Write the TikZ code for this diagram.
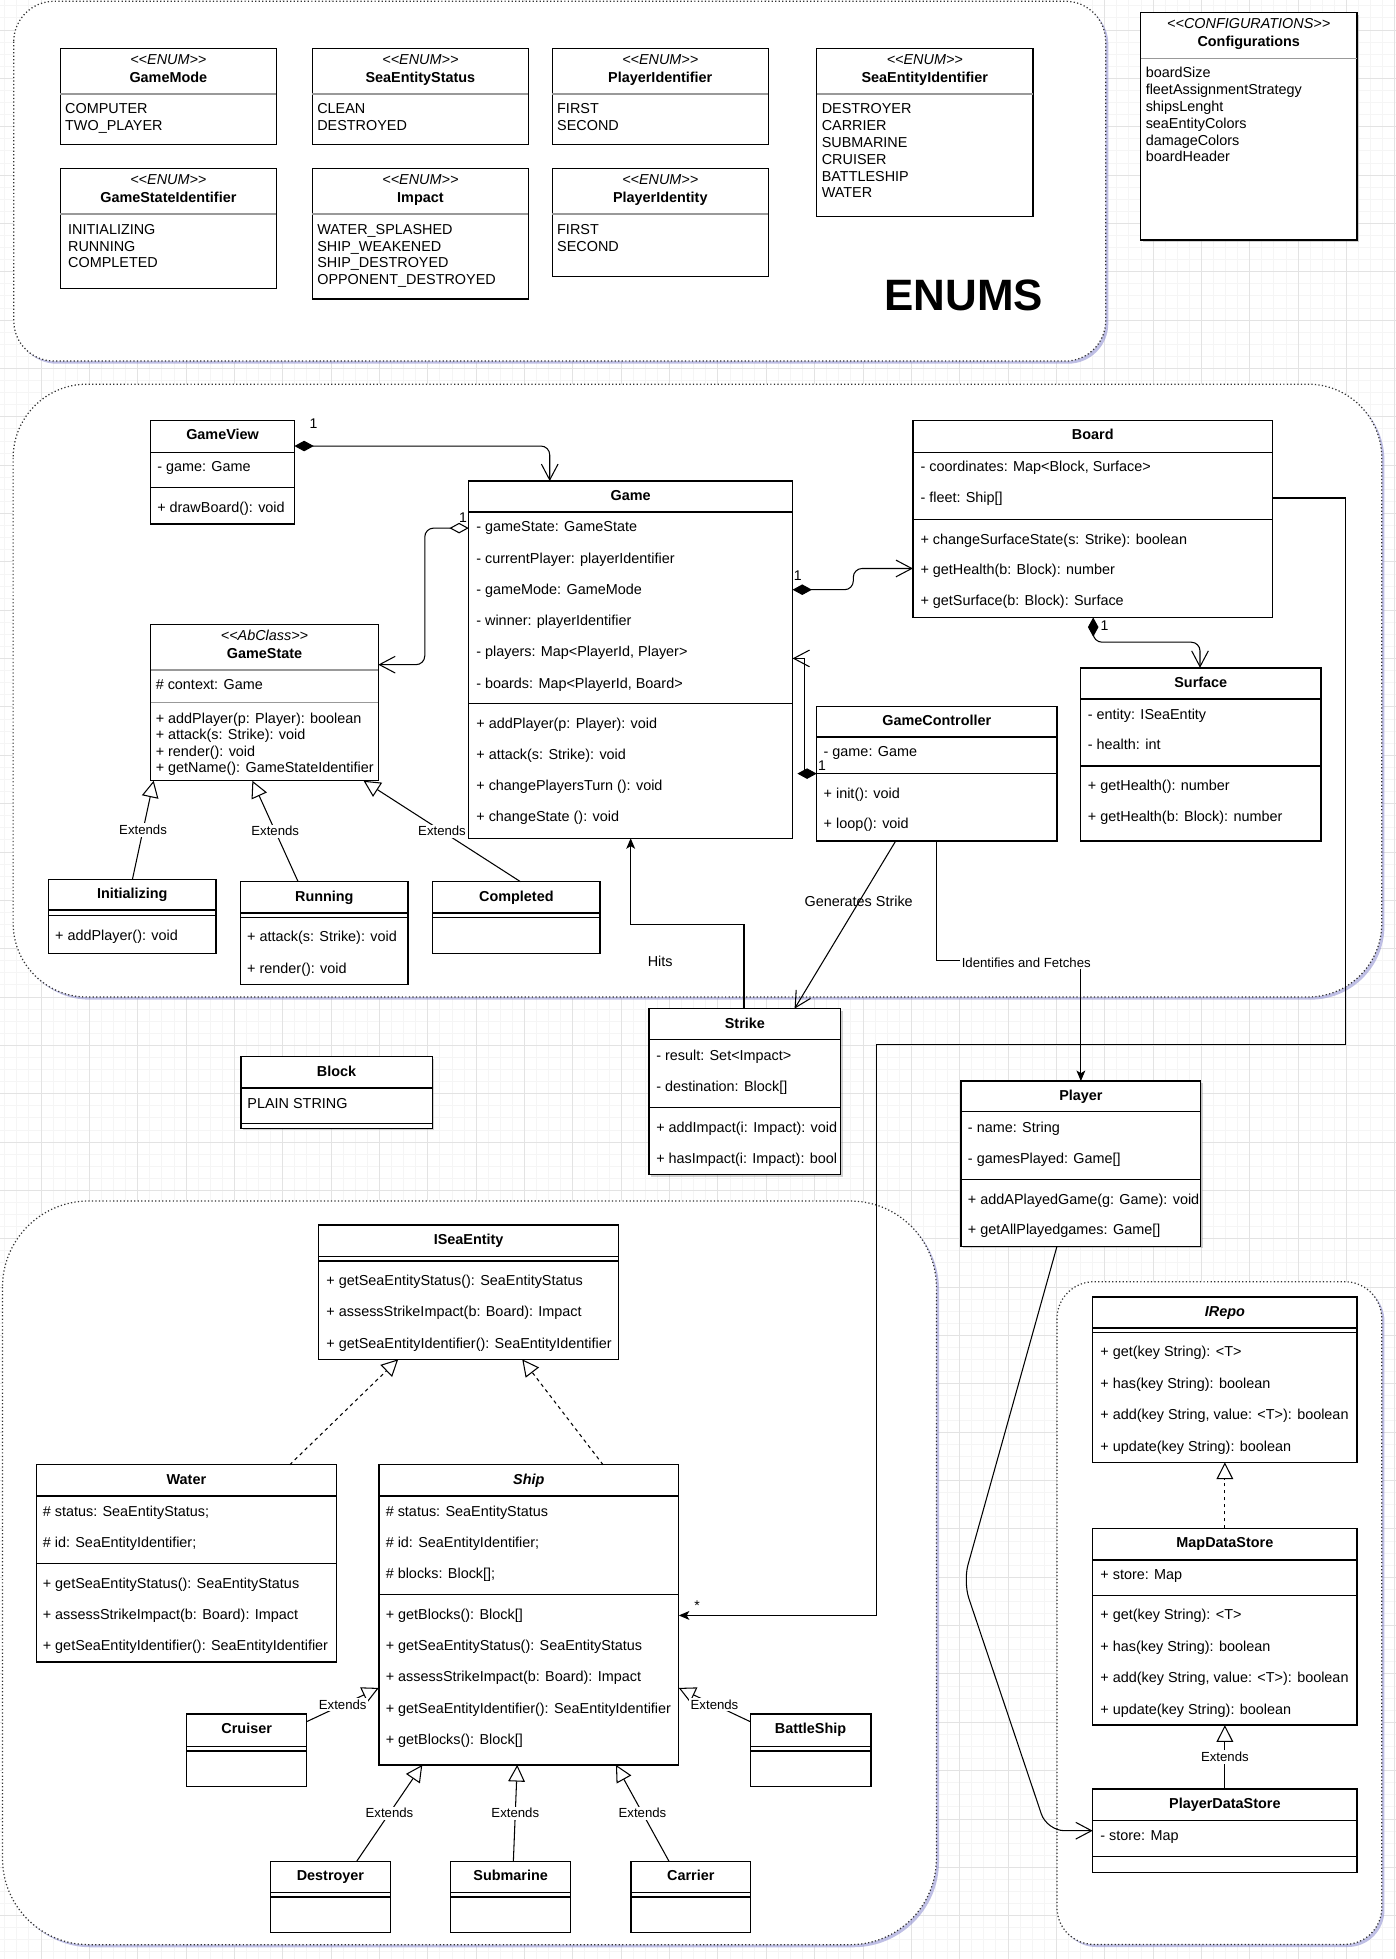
\documentclass[tikz,border=0pt]{standalone}
\usepackage{fontspec}
\setmainfont{Liberation Sans}
\usetikzlibrary{arrows.meta,calc,fit,shadows}

\tikzset{
	gridminor/.style={draw=black!4, line width=0.5pt},
	gridmajor/.style={draw=black!11, line width=0.5pt},
	grp/.style={draw=black!80, line width=0.7pt, dash pattern=on 0.7pt off 1.3pt, fill=white,
		drop shadow={shadow xshift=1.5pt, shadow yshift=-1.5pt, fill=black!40!blue!50!white, opacity=0.5}},
	classbox/.style={draw, line width=0.8pt, fill=white, inner sep=0pt, outer sep=0pt},
	boxshadow/.style={drop shadow={shadow xshift=1.2pt, shadow yshift=-1.2pt, fill=black!50, opacity=0.35}},
	classline/.style={line width=0.8pt},
	sepgray/.style={draw=black!40},
	classname/.style={font=\bfseries\fontsize{8.2}{10}\selectfont, inner sep=0pt, text height=6.2pt, text depth=1.8pt},
	stereo/.style={font=\itshape\fontsize{8.2}{10}\selectfont, inner sep=0pt, text height=6.2pt, text depth=1.8pt},
	classrow/.style={font=\fontsize{8.2}{10}\selectfont, anchor=west, inner sep=0pt, text height=6.2pt, text depth=1.8pt},
	bigtitle/.style={font=\bfseries\fontsize{25}{30}\selectfont, inner sep=0pt},
	link/.style={line width=0.6pt, rounded corners=5pt},
	comp/.style={link, {Diamond[length=11pt,width=6pt]}-{Straight Barb[length=9pt,width=9.5pt]}},
	aggr/.style={link, {Diamond[length=11pt,width=6pt,fill=white]}-{Straight Barb[length=9pt,width=9.5pt]}},
	gen/.style={link, -{Straight Barb[length=9pt,width=9.5pt]}},
	hit/.style={link, sharp corners, -{Stealth[length=6pt,width=5pt,inset=1.5pt]}},
	ext/.style={line width=0.6pt, -{Triangle[length=9.5pt,width=9.5pt,fill=white]}},
	impl/.style={ext, dash pattern=on 2pt off 2pt},
	extlbl/.style={font=\fontsize{7.5}{9}\selectfont, fill=white, inner sep=1pt},
	lbl/.style={font=\fontsize{8.2}{10}\selectfont, inner sep=0pt},
	mult/.style={font=\fontsize{8}{10}\selectfont, inner sep=0pt}
}

\def\umlclass[#1](#2)(#3,#4)(#5,#6)#7{%
	\node[classbox,#1,fit={(#3,#4) (#5,#6)}] (#2) {};
	\node[classname] (#2-name) at ($(#2.north)+(0,12.5)$) {#7};}
\def\umlstereo[#1](#2)(#3,#4)(#5,#6)#7#8{%
	\node[classbox,#1,fit={(#3,#4) (#5,#6)}] (#2) {};
	\node[stereo] (#2-type) at ($(#2.north)+(0,10)$) {<\kern0pt<#7>\kern0pt>};
	\node[classname] (#2-name) at ($(#2.north)+(0,24)$) {#8};}
\def\umlsep[#1](#2)(#3){\draw[classline,#1] (#2.west |- 0,#3) -- (#2.east |- 0,#3);}
\def\umlrows(#1)(#2,#3)(#4)#5{\foreach \txt [count=\n] in {#5}{\node[classrow] (#1\n) at (#2,{#3+#4*(\n-1)}) {\txt};}}

\begin{document}
\begin{tikzpicture}[x=0.025cm, y=-0.025cm]
		%%%%% START %%%%%
		
		\useasboundingbox (0,0) rectangle (1117,1568);
		\fill[white] (0,0) rectangle (1117,1568);
		\foreach \i in {0,...,115} \draw[gridminor] (3.78+9.675*\i,0) -- (3.78+9.675*\i,1568);
		\foreach \j in {0,...,161} \draw[gridminor] (0,4.65+9.675*\j) -- (1117,4.65+9.675*\j);
		\foreach \i in {0,...,28} \draw[gridmajor] (32.8+38.7*\i,0) -- (32.8+38.7*\i,1568);
		\foreach \j in {0,...,40} \draw[gridmajor] (0,24+38.7*\j) -- (1117,24+38.7*\j);
		
		\draw[grp, rounded corners=23pt] (11,1) rectangle (885,289);
		\draw[grp, rounded corners=42pt] (10.5,307.5) rectangle (1106,798);
		\draw[grp, rounded corners=49pt] (2,961.3) rectangle (749.5,1556.5);
		\draw[grp, rounded corners=21pt] (846,1025.9) rectangle (1106,1556.3);
		
		% enums
		\umlstereo[](GameMode)(48.2,38.7)(221.3,115.8){ENUM}{GameMode}
		\umlsep[sepgray](GameMode)(75.3)
		\umlrows(GameMode-v)(51.9,88)(13.6){COMPUTER, TWO\_PLAYER}
		\umlstereo[](SeaEntityStatus)(250,38.7)(423,115.8){ENUM}{SeaEntityStatus}
		\umlsep[sepgray](SeaEntityStatus)(75.3)
		\umlrows(SeaEntityStatus-v)(253.7,88)(13.6){CLEAN, DESTROYED}
		\umlstereo[](PlayerIdentifier)(442,38.7)(615,115.8){ENUM}{PlayerIdentifier}
		\umlsep[sepgray](PlayerIdentifier)(75.3)
		\umlrows(PlayerIdentifier-v)(445.7,88)(13.6){FIRST, SECOND}
		\umlstereo[](SeaEntityIdentifier)(653.7,38.7)(826.8,173.2){ENUM}{SeaEntityIdentifier}
		\umlsep[sepgray](SeaEntityIdentifier)(75.3)
		\umlrows(SeaEntityIdentifier-v)(657.5,88)(13.46){DESTROYER, CARRIER, SUBMARINE, CRUISER, BATTLESHIP, WATER}
		\umlstereo[](GameStateIdentifier)(48.2,134.8)(221.3,230.9){ENUM}{GameStateIdentifier}
		\umlsep[sepgray](GameStateIdentifier)(171.4)
		\umlrows(GameStateIdentifier-v)(54.3,184.2)(13.6){INITIALIZING, RUNNING, COMPLETED}
		\umlstereo[](Impact)(250,134.8)(423,239.4){ENUM}{Impact}
		\umlsep[sepgray](Impact)(171.4)
		\umlrows(Impact-v)(253.7,184.2)(13.6){WATER\_SPLASHED, SHIP\_WEAKENED, SHIP\_DESTROYED, OPPONENT\_DESTROYED}
		\umlstereo[](PlayerIdentity)(442,134.8)(615,221.3){ENUM}{PlayerIdentity}
		\umlsep[sepgray](PlayerIdentity)(171.4)
		\umlrows(PlayerIdentity-v)(445.7,184.2)(13.6){FIRST, SECOND}
		\node[bigtitle] (enums) at (771.4,236.2) {ENUMS};
		
		\umlstereo[boxshadow](Configurations)(913,10.1)(1086,192.2){CONFIGURATIONS}{Configurations}
		\umlsep[sepgray](Configurations)(46.7)
		\umlrows(Configurations-v)(916.8,59.2)(13.45){boardSize, fleetAssignmentStrategy, shipsLenght, seaEntityColors, damageColors, boardHeader}
		
		% game
		\umlclass[](GameView)(120.6,336.5)(235.7,419.5){GameView}
		\umlsep[](GameView)(362)
		\umlsep[](GameView)(390.3)
		\umlrows(GameView-a)(125.6,374.5)(0){- game: Game}
		\umlrows(GameView-m)(125.6,407.1)(0){+ drawBoard(): void}
		
		\umlclass[](Game)(375.2,385)(634.4,670.9){Game}
		\umlsep[](Game)(409.7)
		\umlsep[](Game)(563.2)
		\umlrows(Game-a)(381,422.7)(25){{- gameState: GameState}, {- currentPlayer: playerIdentifier}, {- gameMode: GameMode}, {- winner: playerIdentifier}, {- players: Map<PlayerId, Player>}, {- boards: Map<PlayerId, Board>}}
		\umlrows(Game-m)(381,580.3)(24.8){{+ addPlayer(p: Player): void}, {+ attack(s: Strike): void}, {+ changePlayersTurn (): void}, {+ changeState (): void}}
		
		\umlstereo[](GameState)(120.6,499.9)(302.8,624.9){AbClass}{GameState}
		\umlsep[sepgray](GameState)(536.3)
		\umlsep[sepgray](GameState)(562.3)
		\umlrows(GameState-a)(124.4,548.9)(0){\# context: Game}
		\umlrows(GameState-m)(124.4,575.6)(13.3){{+ addPlayer(p: Player): boolean}, {+ attack(s: Strike): void}, {+ render(): void}, {+ getName(): GameStateIdentifier}}
		
		\umlclass[](Initializing)(38.9,703.8)(172.9,763.3){Initializing}
		\umlsep[](Initializing)(728.4)
		\umlsep[](Initializing)(732.6)
		\umlrows(Initializing-m)(43.9,749.3)(0){+ addPlayer(): void}
		\umlclass[](Running)(192.6,705.7)(326.6,788){Running}
		\umlsep[](Running)(730.7)
		\umlsep[](Running)(734.2)
		\umlrows(Running-m)(197.6,750.6)(25.2){{+ attack(s: Strike): void}, {+ render(): void}}
		\umlclass[](Completed)(346.3,705.7)(480.3,763.3){Completed}
		\umlsep[](Completed)(730.7)
		\umlsep[](Completed)(734.2)
		
		\umlclass[](Board)(730.7,336.5)(1018.6,494.2){Board}
		\umlsep[](Board)(362)
		\umlsep[](Board)(415.7)
		\umlrows(Board-a)(736.5,374.5)(24.7){{- coordinates: Map<Block, Surface>}, {- fleet: Ship[]}}
		\umlrows(Board-m)(736.5,432.4)(24.7){{+ changeSurfaceState(s: Strike): boolean}, {+ getHealth(b: Block): number}, {+ getSurface(b: Block): Surface}}
		
		\umlclass[](Surface)(865,534.5)(1057.2,673){Surface}
		\umlsep[](Surface)(559.4)
		\umlsep[](Surface)(613.2)
		\umlrows(Surface-a)(870.5,572.4)(24.6){{- entity: ISeaEntity}, {- health: int}}
		\umlrows(Surface-m)(870.5,629.7)(24.7){{+ getHealth(): number}, {+ getHealth(b: Block): number}}
		
		\umlclass[](GameController)(653.7,565.4)(845.9,673){GameController}
		\umlsep[](GameController)(590)
		\umlsep[](GameController)(619.2)
		\umlrows(GameController-a)(659,602.8)(0){- game: Game}
		\umlrows(GameController-m)(659,635.7)(24.7){{+ init(): void}, {+ loop(): void}}
		
		% loose classes
		\umlclass[boxshadow](Strike)(519.6,807.3)(672.8,940){Strike}
		\umlsep[](Strike)(832.1)
		\umlsep[](Strike)(886.3)
		\umlrows(Strike-a)(525,846)(24.6){{- result: Set<Impact>}, {- destination: Block[]}}
		\umlrows(Strike-m)(525,903.4)(24.8){{+ addImpact(i: Impact): void}, {+ hasImpact(i: Impact): bool}}
		
		\umlclass[boxshadow](Block)(192.8,845.7)(346,903.1){Block}
		\umlsep[](Block)(870.8)
		\umlsep[](Block)(899.4)
		\umlrows(Block-a)(197.8,884.2)(0){PLAIN STRING}
		
		\umlclass[boxshadow](Player)(769.3,865.3)(961,997.6){Player}
		\umlsep[](Player)(889.5)
		\umlsep[](Player)(944)
		\umlrows(Player-a)(774.5,903.4)(24.8){{- name: String}, {- gamesPlayed: Game[]}}
		\umlrows(Player-m)(774.5,960.8)(24.5){{+ addAPlayedGame(g: Game): void}, {+ getAllPlayedgames: Game[]}}
		
		% sea entities
		\umlclass[](ISeaEntity)(255.1,980.4)(495.1,1088){ISeaEntity}
		\umlsep[](ISeaEntity)(1005.6)
		\umlsep[](ISeaEntity)(1009.4)
		\umlrows(ISeaEntity-m)(261,1025.6)(25.3){{+ getSeaEntityStatus(): SeaEntityStatus}, {+ assessStrikeImpact(b: Board): Impact}, {+ getSeaEntityIdentifier(): SeaEntityIdentifier}}
		
		\umlclass[](Water)(29.1,1172.4)(269.3,1330.2){Water}
		\umlsep[](Water)(1197.5)
		\umlsep[](Water)(1251.6)
		\umlrows(Water-a)(34,1210.6)(24.6){{\# status: SeaEntityStatus;}, {\# id: SeaEntityIdentifier;}}
		\umlrows(Water-m)(34,1268.1)(24.9){{+ getSeaEntityStatus(): SeaEntityStatus}, {+ assessStrikeImpact(b: Board): Impact}, {+ getSeaEntityIdentifier(): SeaEntityIdentifier}}
		
		\umlclass[](Ship)(303.2,1172.4)(543.3,1412.6){\itshape Ship}
		\umlsep[](Ship)(1197.5)
		\umlsep[](Ship)(1276.4)
		\umlrows(Ship-a)(308.5,1210.6)(24.7){{\# status: SeaEntityStatus}, {\# id: SeaEntityIdentifier;}, {\# blocks: Block[];}}
		\umlrows(Ship-m)(308.5,1293)(25){{+ getBlocks(): Block[]}, {+ getSeaEntityStatus(): SeaEntityStatus}, {+ assessStrikeImpact(b: Board): Impact}, {+ getSeaEntityIdentifier(): SeaEntityIdentifier}, {+ getBlocks(): Block[]}}
		
		\umlclass[](Cruiser)(149.4,1371.8)(245.5,1430){Cruiser}
		\umlsep[](Cruiser)(1397.7)
		\umlsep[](Cruiser)(1401.4)
		\umlclass[](BattleShip)(600.5,1371.8)(697.1,1430){BattleShip}
		\umlsep[](BattleShip)(1397.7)
		\umlsep[](BattleShip)(1401.4)
		\umlclass[](Destroyer)(216.5,1489.8)(312.5,1547){Destroyer}
		\umlsep[](Destroyer)(1514.6)
		\umlsep[](Destroyer)(1518.3)
		\umlclass[](Submarine)(360.7,1489.8)(456.7,1547){Submarine}
		\umlsep[](Submarine)(1514.6)
		\umlsep[](Submarine)(1518.3)
		\umlclass[](Carrier)(504.9,1489.8)(600.9,1547){Carrier}
		\umlsep[](Carrier)(1514.6)
		\umlsep[](Carrier)(1518.3)
		
		% repositories
		\umlclass[](IRepo)(874.6,1038)(1086.2,1170.5){\itshape IRepo}
		\umlsep[](IRepo)(1063)
		\umlsep[](IRepo)(1066.6)
		\umlrows(IRepo-m)(880.5,1082.7)(25.2){{+ get(key String): <T>}, {+ has(key String): boolean}, {+ add(key String, value: <T>): boolean}, {+ update(key String): boolean}}
		
		\umlclass[](MapDataStore)(874.6,1223.4)(1086.2,1380.8){MapDataStore}
		\umlsep[](MapDataStore)(1248.7)
		\umlsep[](MapDataStore)(1277)
		\umlrows(MapDataStore-a)(880.5,1260.8)(0){+ store: Map}
		\umlrows(MapDataStore-m)(880.5,1293.5)(25.1){{+ get(key String): <T>}, {+ has(key String): boolean}, {+ add(key String, value: <T>): boolean}, {+ update(key String): boolean}}
		
		\umlclass[](PlayerDataStore)(874.6,1431.9)(1086.2,1498.7){PlayerDataStore}
		\umlsep[](PlayerDataStore)(1457.2)
		\umlsep[](PlayerDataStore)(1485.8)
		\umlrows(PlayerDataStore-a)(880.5,1469.7)(0){- store: Map}
		
		% connectors
		\draw[comp] (GameView.east |- 0,357) -| (Game.north -| 440,0);
		\draw[aggr] (Game.west |- 0,422.7) -- (340,422.7) |- (GameState.east |- 0,532);
		\draw[comp] (Game.east |- 0,472) -- (683,472) |- (Board.west |- 0,455);
		\draw[comp] (Board.south -| 875,0) -- (875,514) -| (Surface.north -| 960.5,0);
		\draw[comp, sharp corners] (GameController.west |- 0,619.2) -- (644,619.2) -- (644,527) -- (Game.east |- 0,527);
		\draw[hit] (Strike.north -| 595.5,0) |- (Game.south |- 0,739.6) -- (Game.south);
		\draw[gen] (GameController.south -| 717,0) -- (Strike.north -| 636,0);
		\draw[hit] (GameController.south) |- (Player.north |- 0,769) -- (Player.north);
		\draw[hit] (Board.east |- 0,398.6) -- (1076.7,398.6) -- (1076.7,836.2) -- (701.4,836.2) |- (Ship.east |- 0,1293);
		\draw[gen, rounded corners=10pt] (Player.south -| 846,0) -- (771,1266) -- (838,1465.3) -- (PlayerDataStore.west);
		
		\draw[ext] (Initializing.north -| 106,0) -- (GameState.south -| 123,0) node[extlbl, pos=0.5] (extInitializing) {Extends};
		\draw[ext] (Running.north -| 238.6,0) -- (GameState.south -| 202,0) node[extlbl, pos=0.5] (extRunning) {Extends};
		\draw[ext] (Completed.north -| 416.6,0) -- (GameState.south -| 291,0) node[extlbl, pos=0.5] (extCompleted) {Extends};
		
		\draw[impl] (Water.north -| 231.9,0) -- (ISeaEntity.south -| 318.7,0);
		\draw[impl] (Ship.north -| 482.7,0) -- (ISeaEntity.south -| 418,0);
		\draw[ext] (Cruiser.east |- 0,1378) -- (Ship.west |- 0,1351) node[extlbl, pos=0.5] (extCruiser) {Extends};
		\draw[ext] (BattleShip.west |- 0,1378) -- (Ship.east |- 0,1351) node[extlbl, pos=0.5] (extBattleShip) {Extends};
		\draw[ext] (Destroyer.north -| 285.5,0) -- (Ship.south -| 338,0) node[extlbl, pos=0.5] (extDestroyer) {Extends};
		\draw[ext] (Submarine.north -| 410.9,0) -- (Ship.south -| 414,0) node[extlbl, pos=0.5] (extSubmarine) {Extends};
		\draw[ext] (Carrier.north -| 535.5,0) -- (Ship.south -| 493,0) node[extlbl, pos=0.5] (extCarrier) {Extends};
		
		\draw[impl] (MapDataStore.north) -- (IRepo.south);
		\draw[ext] (PlayerDataStore.north) -- (MapDataStore.south) node[extlbl, pos=0.5] (extPlayerDataStore) {Extends};
		
		% labels
		\node[mult] (mGameView) at (251,339) {1};
		\node[mult] (mGameState) at (370.6,414.4) {1};
		\node[mult] (mBoard) at (638.6,461) {1};
		\node[mult] (mSurface) at (884,501) {1};
		\node[mult] (mGameController) at (658,612.7) {1};
		\node[mult] (mShip) at (558,1285) {*};
		\node[lbl] (hits) at (528.4,769.5) {Hits};
		\node[lbl] (generates) at (687.3,721.2) {Generates Strike};
		\node[extlbl] (fetches) at (821.4,770.5) {Identifies and Fetches};
		
		%%%%% END %%%%%
\end{tikzpicture}
\end{document}
